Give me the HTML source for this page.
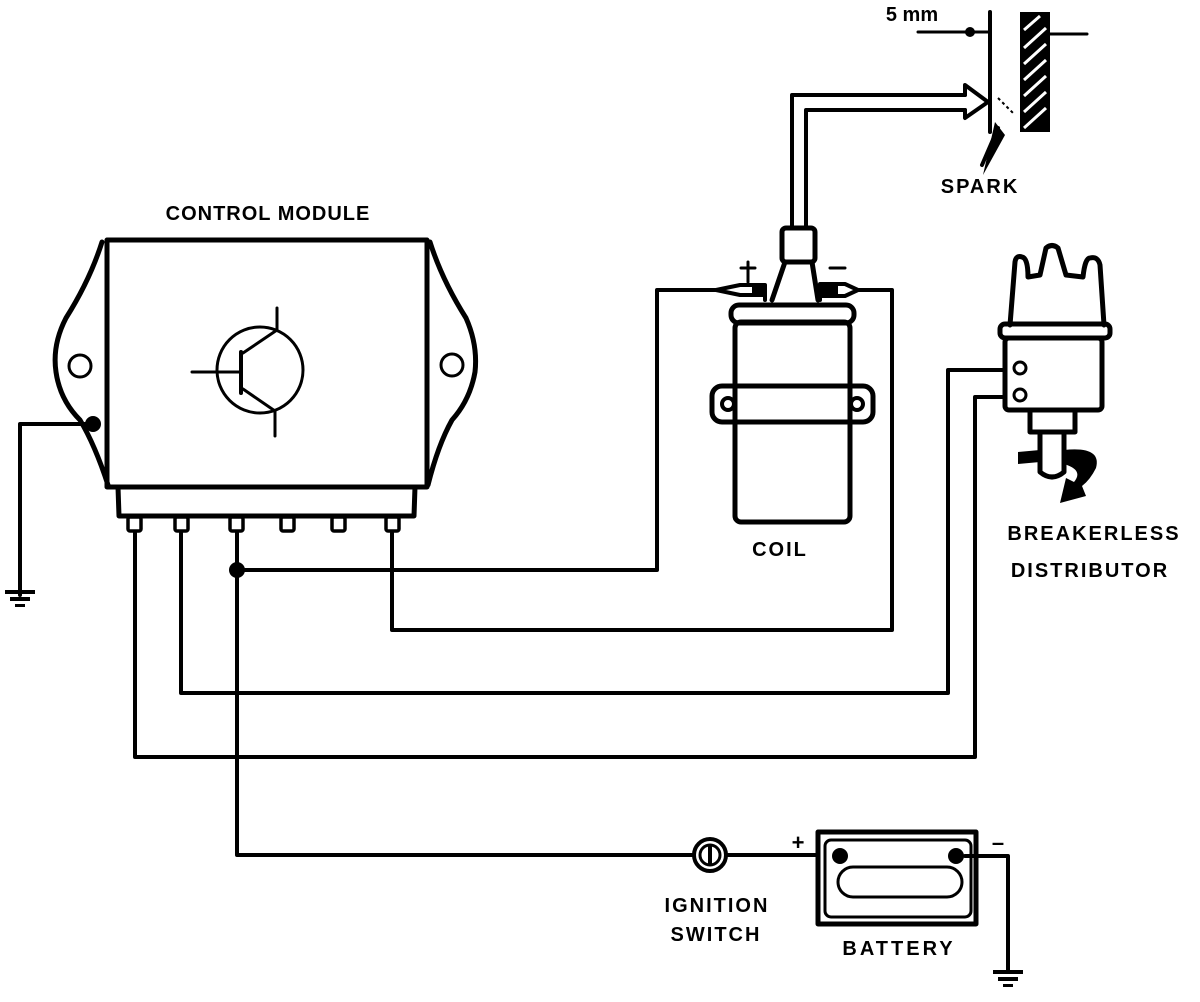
<!DOCTYPE html>
<html><head><meta charset="utf-8"><style>
html,body{margin:0;padding:0;background:#fff}
svg{display:block}
text{font-family:"Liberation Sans",sans-serif;font-weight:bold;fill:#000}
</style></head><body>
<svg width="1200" height="1002" viewBox="0 0 1200 1002" xmlns="http://www.w3.org/2000/svg">
<g fill="none" stroke="#000" stroke-width="4" stroke-linejoin="round" stroke-linecap="round">
<!-- control module -->
<rect x="107" y="240" width="320" height="247" stroke-width="5"/>
<path d="M102,242 Q90,280 66,318 Q52,345 56,372 Q60,400 80,420 Q95,445 108,485" stroke-width="5"/>
<path d="M430,242 Q442,280 466,318 Q478,345 475,372 Q470,400 452,420 Q438,445 428,485" stroke-width="5"/>
<circle cx="80" cy="366" r="11" stroke-width="3"/>
<circle cx="452" cy="365" r="11" stroke-width="3"/>
<path d="M118,487 L119,516 L414,516 L415,487" stroke-width="5"/>
<!-- pins -->
<g stroke-width="3.5">
<rect x="128" y="517" width="13" height="14" rx="2"/>
<rect x="175" y="517" width="13" height="14" rx="2"/>
<rect x="230" y="517" width="13" height="14" rx="2"/>
<rect x="281" y="517" width="13" height="14" rx="2"/>
<rect x="332" y="517" width="13" height="14" rx="2"/>
<rect x="386" y="517" width="13" height="14" rx="2"/>
</g>
<!-- transistor -->
<circle cx="260" cy="370" r="43" stroke-width="3"/>
<line x1="192" y1="372" x2="241" y2="372" stroke-width="3"/>
<line x1="241" y1="352" x2="241" y2="393" stroke-width="4"/>
<line x1="243" y1="353" x2="277" y2="330" stroke-width="3"/>
<line x1="277" y1="308" x2="277" y2="330" stroke-width="3"/>
<line x1="243" y1="389" x2="275" y2="411" stroke-width="3"/>
<line x1="275" y1="411" x2="275" y2="436" stroke-width="3"/>
<!-- ground wire -->
<path d="M93,424 L20,424 L20,595" />
<!-- wires -->
<path d="M237,533 L237,855 L694,855"/>
<path d="M237,570 L657,570 L657,290 L715,290"/>
<path d="M392,533 L392,630 L892,630 L892,290 L858,290"/>
<path d="M181,533 L181,693 L948,693 L948,370 L1005,370"/>
<path d="M135,533 L135,757 L975,757 L975,397 L1005,397"/>
<path d="M726,855 L818,855"/>
<path d="M965,856 L1008,856 L1008,970"/>
<!-- coil -->
<rect x="735" y="322" width="115" height="200" rx="6" stroke-width="5"/>
<rect x="731" y="305" width="123" height="18" rx="8" stroke-width="5"/>
<rect x="712" y="386" width="161" height="36" rx="10" stroke-width="5"/>
<circle cx="728" cy="404" r="6"/>
<circle cx="857" cy="404" r="6"/>
<path d="M772,300 L785,262 L812,262 L818,300" stroke-width="5"/>
<rect x="782" y="228" width="33" height="34" rx="4" stroke-width="5"/>
<path d="M716,290 L740,285 L765,285 L765,300 M716,290 L740,295 L765,295" stroke-width="4"/>
<path d="M858,290 L845,284 L820,284 L820,300 M858,290 L845,296 L820,296" stroke-width="4"/>
<rect x="752" y="286" width="14" height="10" fill="#000" stroke="none"/>
<rect x="822" y="286" width="16" height="10" fill="#000" stroke="none"/>
<line x1="748" y1="262" x2="748" y2="282" stroke-width="3"/>
<line x1="741" y1="268" x2="755" y2="268" stroke-width="3"/>
<line x1="830" y1="268" x2="845" y2="268" stroke-width="3"/>
<!-- HT lead -->
<path d="M792,228 L792,95 L965,95" stroke-width="4"/>
<path d="M806,228 L806,110 L965,110" stroke-width="4"/>
<path d="M965,95 L965,85 L988,102 L965,118 L965,110" stroke-width="4"/>
<!-- electrodes -->
<line x1="990" y1="12" x2="990" y2="132" stroke-width="4"/>
<line x1="918" y1="32" x2="988" y2="32" stroke-width="3"/>
<line x1="1050" y1="34" x2="1087" y2="34" stroke-width="3"/>
<line x1="982" y1="165" x2="998" y2="128" stroke-width="4"/>
<!-- distributor -->
<path d="M1010,325 L1015,262 Q1016,255 1022,257 Q1028,258 1028,277 L1040,275 L1046,248 Q1052,243 1058,248 L1066,275 L1083,277 Q1085,258 1090,258 Q1098,256 1100,265 L1104,325" stroke-width="5"/>
<rect x="1000" y="324" width="110" height="14" rx="5" stroke-width="5"/>
<rect x="1005" y="338" width="97" height="72" rx="4" stroke-width="5"/>
<circle cx="1020" cy="368" r="6" stroke-width="3"/>
<circle cx="1020" cy="395" r="6" stroke-width="3"/>
<rect x="1030" y="410" width="45" height="22" stroke-width="5"/>
<path d="M1040,432 L1040,472 Q1052,482 1064,472 L1064,432" stroke-width="5"/>
<!-- battery -->
<rect x="818" y="832" width="158" height="92" stroke-width="5"/>
<rect x="825" y="840" width="146" height="77" rx="6" stroke-width="3"/>
<rect x="838" y="867" width="124" height="30" rx="15" stroke-width="3"/>
<!-- ignition switch -->
<circle cx="710" cy="855" r="16" stroke-width="4"/>
<circle cx="710" cy="855" r="10" stroke-width="3"/>
<line x1="710" y1="847" x2="710" y2="863" stroke-width="4"/>
</g>
<g fill="#000">
<circle cx="93" cy="424" r="8"/>
<circle cx="237" cy="570" r="8"/>
<circle cx="970" cy="32" r="5"/>
<circle cx="1040" cy="34" r="5"/>
<circle cx="840" cy="856" r="8"/>
<circle cx="956" cy="856" r="8"/>
<path d="M983,175 L995,122 L1005,135 Z"/>
<path d="M1018,452 L1040,450 L1040,462 L1018,464 Z"/>
<path d="M1064,450 Q1102,446 1096,468 Q1090,480 1082,486 L1086,496 L1060,503 L1066,478 L1074,482 Q1084,470 1064,464 Z"/>
<!-- grounds -->
<rect x="5" y="590" width="30" height="4"/>
<rect x="10" y="597" width="20" height="4"/>
<rect x="15" y="604" width="10" height="3"/>
<rect x="993" y="970" width="30" height="4"/>
<rect x="998" y="977" width="20" height="4"/>
<rect x="1003" y="984" width="10" height="3"/>
</g>
<!-- hatched block -->
<rect x="1020" y="12" width="30" height="120" fill="#000"/>
<g stroke="#fff" stroke-width="3">
<line x1="1024" y1="30" x2="1040" y2="16"/><line x1="1024" y1="48" x2="1046" y2="28"/>
<line x1="1024" y1="64" x2="1046" y2="44"/><line x1="1024" y1="80" x2="1046" y2="60"/>
<line x1="1024" y1="96" x2="1046" y2="76"/><line x1="1024" y1="112" x2="1046" y2="92"/>
<line x1="1024" y1="128" x2="1046" y2="108"/>
</g>
<line x1="998" y1="98" x2="1014" y2="114" stroke="#000" stroke-width="2" stroke-dasharray="3,3"/>
<!-- labels -->
<text x="268" y="220" font-size="20" text-anchor="middle" letter-spacing="1">CONTROL MODULE</text>
<text x="912" y="21" font-size="20" text-anchor="middle">5 mm</text>
<text x="980" y="193" font-size="20" text-anchor="middle" letter-spacing="2">SPARK</text>
<text x="780" y="556" font-size="20" text-anchor="middle" letter-spacing="2">COIL</text>
<text x="1094" y="540" font-size="20" text-anchor="middle" letter-spacing="2">BREAKERLESS</text>
<text x="1090" y="577" font-size="20" text-anchor="middle" letter-spacing="2">DISTRIBUTOR</text>
<text x="717" y="912" font-size="20" text-anchor="middle" letter-spacing="2">IGNITION</text>
<text x="716" y="941" font-size="20" text-anchor="middle" letter-spacing="2">SWITCH</text>
<text x="899" y="955" font-size="20" text-anchor="middle" letter-spacing="3">BATTERY</text>
<text x="798" y="850" font-size="22" text-anchor="middle">+</text>
<text x="998" y="850" font-size="22" text-anchor="middle">–</text>
</svg>
</body></html>
